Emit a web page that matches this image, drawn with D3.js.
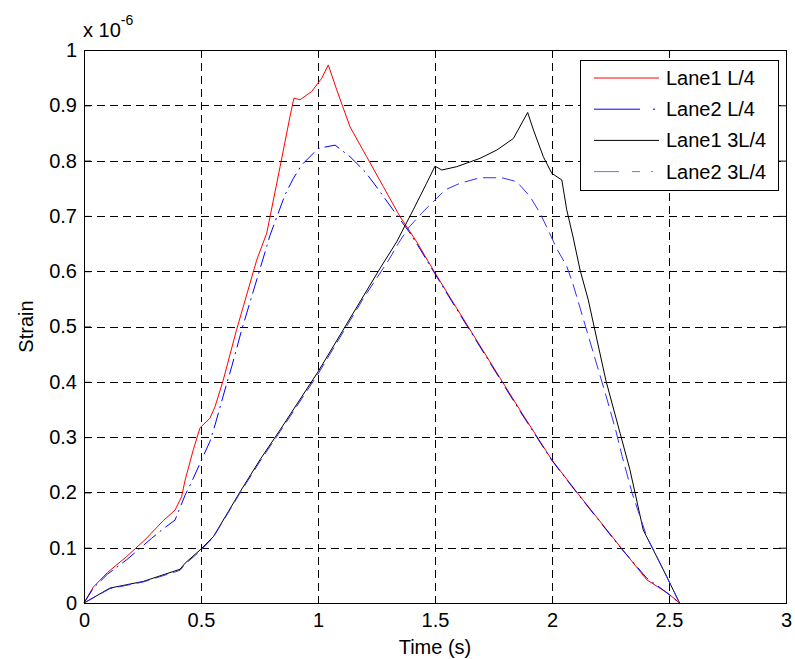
<!DOCTYPE html>
<html>
<head>
<meta charset="utf-8">
<script src="https://cdn.jsdelivr.net/npm/d3@7/dist/d3.min.js"></script>
<style>
    body { margin: 0; background: #fff; }
    svg text { font-family: "Liberation Sans", Arial, Helvetica, sans-serif; }
</style>
</head>
<body>
<script>
// strain at two lanes (units of 1e-6)
var timeL1L4 = [0, 0.04, 0.10, 0.182, 0.26, 0.339, 0.389, 0.417, 0.432, 0.467,
    0.496, 0.538, 0.560, 0.595, 0.652, 0.738, 0.781, 0.838, 0.880, 0.897, 0.923,
    0.973, 1.016, 1.044, 1.080, 1.137, 1.208, 1.279, 1.350, 1.422, 1.493, 1.571,
    1.863, 1.999, 2.105, 2.291, 2.405, 2.497, 2.545];
var strainL1L4 = [0, 0.029, 0.055, 0.084, 0.114, 0.149, 0.168, 0.192, 0.222,
    0.277, 0.317, 0.334, 0.355, 0.403, 0.494, 0.620, 0.669, 0.789, 0.879, 0.913,
    0.910, 0.925, 0.949, 0.973, 0.928, 0.861, 0.807, 0.753, 0.699, 0.653, 0.602,
    0.548, 0.349, 0.259, 0.201, 0.102, 0.042, 0.017, 0];

var timeL2L4 = [0, 0.04, 0.10, 0.182, 0.289, 0.332, 0.389, 0.432, 0.460, 0.538,
    0.560, 0.610, 0.631, 0.674, 0.774, 0.795, 0.859, 0.895, 0.930, 1.001, 1.073,
    1.137, 1.201, 1.244, 1.336, 1.393, 1.422, 1.493, 1.571, 1.863, 1.999, 2.105,
    2.291, 2.405, 2.480, 2.545];
var strainL2L4 = [0, 0.027, 0.052, 0.078, 0.117, 0.132, 0.150, 0.195, 0.219,
    0.292, 0.322, 0.397, 0.427, 0.494, 0.635, 0.665, 0.738, 0.768, 0.792, 0.822,
    0.828, 0.807, 0.780, 0.756, 0.702, 0.669, 0.650, 0.600, 0.546, 0.347, 0.258,
    0.200, 0.101, 0.045, 0.022, 0];

var timeL13L4 = [0, 0.111, 0.253, 0.410, 0.432, 0.496, 0.553, 0.667, 0.752,
    0.838, 1.0, 1.265, 1.336, 1.407, 1.464, 1.500, 1.529, 1.593, 1.692, 1.764,
    1.835, 1.896, 1.921, 1.963, 1.999, 2.042, 2.063, 2.091, 2.120, 2.155, 2.230,
    2.291, 2.333, 2.390, 2.433, 2.490, 2.545];
var strainL13L4 = [0, 0.027, 0.039, 0.061, 0.072, 0.096, 0.120, 0.201, 0.259,
    0.313, 0.418, 0.605, 0.653, 0.711, 0.759, 0.790, 0.783, 0.789, 0.804, 0.819,
    0.840, 0.887, 0.855, 0.807, 0.777, 0.765, 0.711, 0.660, 0.602, 0.548, 0.403,
    0.307, 0.241, 0.132, 0.096, 0.048, 0];

var timeL23L4 = [0, 0.111, 0.253, 0.410, 0.432, 0.496, 0.553, 0.667, 0.752,
    0.838, 1.0, 1.200, 1.302, 1.343, 1.386, 1.443, 1.486, 1.543, 1.607, 1.692,
    1.785, 1.849, 1.906, 1.949, 1.984, 2.020, 2.063, 2.091, 2.230, 2.272, 2.300,
    2.343, 2.405, 2.476, 2.545];
var strainL23L4 = [0, 0.026, 0.038, 0.059, 0.070, 0.094, 0.119, 0.199, 0.256,
    0.310, 0.414, 0.555, 0.620, 0.650, 0.678, 0.705, 0.723, 0.747, 0.759, 0.769,
    0.769, 0.762, 0.735, 0.705, 0.674, 0.641, 0.609, 0.575, 0.376, 0.313, 0.265,
    0.198, 0.120, 0.060, 0];

var seriesNames = ["Lane1 L/4", "Lane2 L/4", "Lane1 3L/4", "Lane2 3L/4"];

var xTicks = [0, 0.5, 1, 1.5, 2, 2.5, 3];
var xTickLabels = ["0", "0.5", "1", "1.5", "2", "2.5", "3"];
var yTicks = [0, 0.1, 0.2, 0.3, 0.4, 0.5, 0.6, 0.7, 0.8, 0.9, 1];
var yTickLabels = ["0", "0.1", "0.2", "0.3", "0.4", "0.5", "0.6", "0.7", "0.8",
    "0.9", "1"];

// plot box inside the 795x659 window
var margin = {top: 50, right: 9, bottom: 56, left: 84},
    width = 795 - margin.left - margin.right,
    height = 659 - margin.top - margin.bottom;

var x = d3.scaleLinear().domain([0, 3]).range([0, width]);
var y = d3.scaleLinear().domain([0, 1]).range([height, 0]);

var svg = d3.select("body").append("svg")
    .attr("width", 795)
    .attr("height", 659);

var g = svg.append("g")
    .attr("transform", "translate(" + margin.left + "," + margin.top + ")");

// dashed grid
g.append("g")
    .selectAll("line")
    .data(xTicks.slice(1, -1))
    .enter().append("line")
    .attr("x1", function(d) { return Math.round(x(d)) + 0.5; })
    .attr("x2", function(d) { return Math.round(x(d)) + 0.5; })
    .attr("y1", 0)
    .attr("y2", height)
    .attr("stroke", "#000")
    .attr("stroke-dasharray", "8,5");

g.append("g")
    .selectAll("line")
    .data(yTicks.slice(1, -1))
    .enter().append("line")
    .attr("x1", 0)
    .attr("x2", width)
    .attr("y1", function(d) { return Math.round(y(d)) + 0.5; })
    .attr("y2", function(d) { return Math.round(y(d)) + 0.5; })
    .attr("stroke", "#000")
    .attr("stroke-dasharray", "8,5");

// series
var series = [
    {name: seriesNames[0], t: timeL1L4, v: strainL1L4, color: "#ff0000", dash: null},
    {name: seriesNames[1], t: timeL2L4, v: strainL2L4, color: "#0000ff", dash: "16,5,2,5"},
    {name: seriesNames[2], t: timeL13L4, v: strainL13L4, color: "#000000", dash: null},
    {name: seriesNames[3], t: timeL23L4, v: strainL23L4, color: "#3030ff", dash: "13,6"}
];

var line = d3.line()
    .x(function(d) { return x(d[0]); })
    .y(function(d) { return y(d[1]); });

series.forEach(function(s) {
    var pts = s.t.map(function(t, i) { return [t, s.v[i]]; });
    g.append("path")
        .datum(pts)
        .attr("d", line)
        .attr("fill", "none")
        .attr("stroke", s.color)
        .attr("stroke-width", 1)
        .attr("stroke-dasharray", s.dash);
});

// axes with inward ticks on all four sides
var fmtX = function(d, i) { return xTickLabels[i]; };
var fmtY = function(d, i) { return yTickLabels[i]; };

var xAxis = g.append("g")
    .attr("transform", "translate(0," + height + ")")
    .call(d3.axisBottom(x).tickValues(xTicks).tickFormat(fmtX)
        .tickSizeInner(-7).tickSizeOuter(0).tickPadding(10));
var xTop = g.append("g")
    .call(d3.axisTop(x).tickValues(xTicks).tickFormat("")
        .tickSizeInner(-7).tickSizeOuter(0));
var yAxis = g.append("g")
    .call(d3.axisLeft(y).tickValues(yTicks).tickFormat(fmtY)
        .tickSizeInner(-7).tickSizeOuter(0).tickPadding(7));
var yRight = g.append("g")
    .attr("transform", "translate(" + width + ",0)")
    .call(d3.axisRight(y).tickValues(yTicks).tickFormat("")
        .tickSizeInner(-7).tickSizeOuter(0));

[xAxis, xTop, yAxis, yRight].forEach(function(a) {
    a.select(".domain").remove();
    a.selectAll("line").attr("stroke", "#000");
    a.selectAll("text")
        .attr("fill", "#000")
        .style("font-size", "20px");
});

// frame
g.append("rect")
    .attr("x", 0.5)
    .attr("y", 0.5)
    .attr("width", width)
    .attr("height", height)
    .attr("fill", "none")
    .attr("stroke", "#000")
    .attr("stroke-width", 1);

// exponent label
var expo = svg.append("text")
    .attr("x", 83)
    .attr("y", 37)
    .style("font-size", "20px")
    .text("x 10");
expo.append("tspan")
    .attr("dy", -12)
    .style("font-size", "14px")
    .text("-6");

// axis titles
svg.append("text")
    .attr("x", margin.left + width / 2)
    .attr("y", 654)
    .attr("text-anchor", "middle")
    .style("font-size", "20px")
    .text("Time (s)");

svg.append("text")
    .attr("transform", "translate(33," + (margin.top + height / 2) + ") rotate(-90)")
    .attr("text-anchor", "middle")
    .style("font-size", "20px")
    .text("Strain");

// legend
var legend = svg.append("g");
legend.append("rect")
    .attr("x", 580.5)
    .attr("y", 60.5)
    .attr("width", 198)
    .attr("height", 130)
    .attr("fill", "#fff")
    .attr("stroke", "#000");

var legendDash = [null, "46,13,2,4", null, "25,13,8,11,2"];
var legendColor = ["#ff0000", "#0000ff", "#000000", "#7070ff"];

series.forEach(function(s, i) {
    var ly = 78 + i * 31.2;
    legend.append("line")
        .attr("x1", 594)
        .attr("x2", 659)
        .attr("y1", ly)
        .attr("y2", ly)
        .attr("stroke", legendColor[i])
        .attr("stroke-width", 1)
        .attr("stroke-dasharray", legendDash[i]);
    legend.append("text")
        .attr("x", 666)
        .attr("y", ly)
        .attr("dy", "0.35em")
        .style("font-size", "20px")
        .text(s.name);
});
</script>
</body>
</html>
